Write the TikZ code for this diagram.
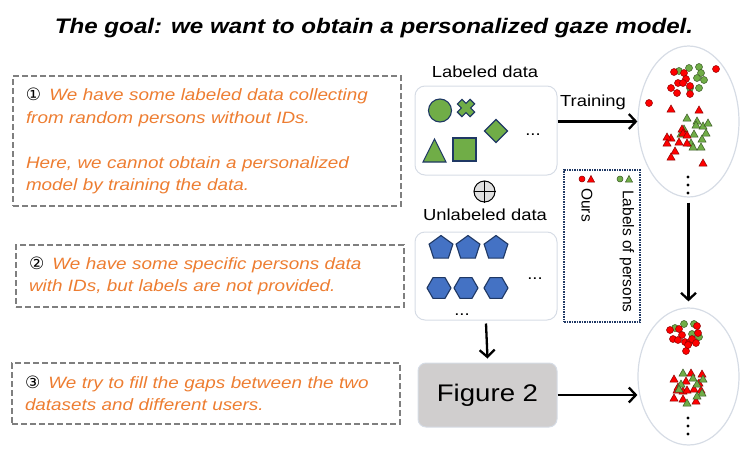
\documentclass[tikz,border=0pt]{standalone}
\usepackage{fontspec}
\setmainfont{Liberation Sans}[FakeStretch=1.15]
\newfontfamily\legfont{Liberation Sans}
\newfontfamily\symfont{DejaVu Sans}
\usetikzlibrary{arrows.meta,shapes.geometric}
\definecolor{orangetxt}{HTML}{ED7D31}
\definecolor{dashgray}{HTML}{7F7F7F}
\definecolor{boxedge}{HTML}{D6DCE5}
\definecolor{navy}{HTML}{1F3864}
\definecolor{shgreen}{HTML}{70AD47}
\definecolor{shblue}{HTML}{4472C4}
\definecolor{figgray}{HTML}{D0CECE}
\definecolor{ptred}{HTML}{FF0000}
\definecolor{ptredline}{HTML}{8B0000}
\definecolor{ptgreenline}{HTML}{385723}
\newcommand{\cnum}[1]{{\color{black}\upshape\symfont\fontsize{17}{20}\selectfont #1}\hspace{0.5em}}
\begin{document}
\begin{tikzpicture}[x=1pt,y=-1pt,
  notebox/.style={draw=dashgray, dash pattern=on 6pt off 3pt, line width=1.8pt,
    inner xsep=13pt, text width=362pt, align=left,
    font=\fontsize{16.4}{22.5}\selectfont\itshape, text=orangetxt},
  datbox/.style={draw=boxedge, line width=1pt, rounded corners=10pt, minimum width=142pt, inner sep=0pt},
  lbl/.style={font=\fontsize{16}{18}\selectfont, inner sep=0pt},
  gshape/.style={fill=shgreen, draw=navy, line width=1.1pt},
  bshape/.style={fill=shblue, draw=navy, line width=1.1pt},
  arr/.style={-{Straight Barb[length=7pt,width=15pt]}, line width=2.3pt},
  blob/.style={draw=boxedge, line width=1.2pt, ellipse, inner sep=0pt},
  rdot/.style={fill=ptred, draw=ptredline, line width=0.5pt},
  gdot/.style={fill=shgreen, draw=ptgreenline, line width=0.5pt},
]
\useasboundingbox (0,0) rectangle (748,453);

% title
\node[anchor=base, inner sep=0pt, font=\fontsize{21}{24}\selectfont\bfseries\itshape] (title) at (374,33)
  {The goal: we want to obtain a personalized gaze model.};

% note boxes
\node[notebox, minimum height=130pt] (n1) at (207,141)
  {\cnum{①}We have some labeled data collecting\\ from random persons without IDs.\\[22.5pt]
   Here, we cannot obtain a personalized\\ model by training the data.};
\node[notebox, minimum height=62pt] (n2) at (210,276)
  {\cnum{②}We have some specific persons data\\ with IDs, but labels are not provided.};
\node[notebox, minimum height=61pt] (n3) at (206,393.5)
  {\cnum{③}We try to fill the gaps between the two\\ datasets and different users.};

% labeled data
\node[lbl] (labt) at (485,72) {Labeled data};
\node[datbox, minimum height=89pt] (lab) at (486,130.5) {};
\node[gshape, circle, minimum size=23pt, inner sep=0pt] (c1) at (440,110.5) {};
\begin{scope}[shift={(466,108)}, rotate=45]
  \draw[gshape] (3.3,9) -- (3.3,3.3) -- (9,3.3) -- (9,-3.3) -- (3.3,-3.3) -- (3.3,-9)
    -- (-3.3,-9) -- (-3.3,-3.3) -- (-9,-3.3) -- (-9,3.3) -- (-3.3,3.3) -- (-3.3,9) -- cycle;
\end{scope}
\draw[gshape] (496,119.5) -- (507.5,131) -- (496,142.5) -- (484.5,131) -- cycle;
\draw[gshape] (423,162) -- (446,162) -- (434.5,139) -- cycle;
\node[gshape, rectangle, minimum size=23pt, inner sep=0pt] (sq) at (464.5,149.5) {};
\node[lbl, anchor=base] (ld) at (533,135.5) {...};

% oplus
\node[circle, draw=black, fill=black!12, line width=1pt, minimum size=21pt, inner sep=0pt] (op) at (484.5,191.5) {};
\draw[line width=1pt] (op.north) -- (op.south) (op.west) -- (op.east);

% unlabeled data
\node[lbl] (unlt) at (485,215) {Unlabeled data};
\node[datbox, minimum height=88pt] (unl) at (486,276) {};
\foreach \x in {441,468,496}
  \node[bshape, regular polygon, regular polygon sides=5, minimum size=25pt, inner sep=0pt] at (\x,248) {};
\foreach \x in {439,466,496}
  \node[bshape, regular polygon, regular polygon sides=6, minimum size=24pt, inner sep=0pt] at (\x,288) {};
\node[lbl, anchor=base] (ud1) at (535,279) {...};
\node[lbl, anchor=base] (ud2) at (462,315) {...};

% figure 2
\node[fill=figgray, draw=boxedge, line width=1pt, rounded corners=8pt, minimum width=139pt, minimum height=64pt,
  font=\fontsize{24}{26}\selectfont] (fig) at (487.5,395) {Figure 2};

% ellipses
\node[blob, minimum width=101pt, minimum height=151pt] (top) at (688.5,121.5) {};
\node[blob, minimum width=101pt, minimum height=137pt] (bot) at (688.5,376.5) {};

% arrows
\node[lbl] (trn) at (593,102) {Training};
\draw[arr] (lab.east |- top.west) -- (top.west);
\draw[arr] ([yshift=-5pt]top.south) -- ([yshift=6pt]bot.north);
\draw[arr] ([yshift=-3pt]unl.south) -- ([yshift=4pt]fig.north);
\draw[arr] (fig.east) -- (bot.west |- fig.east);

% legend
\node[draw=navy, densely dotted, line width=1.5pt, minimum width=76pt, minimum height=152pt, inner sep=0pt] (leg) at (602,246) {};
\fill[rdot] (582,179) circle[radius=3pt];
\draw[rdot] (587.5,182) -- ++(7,0) -- ++(-3.5,-6.5) -- cycle;
\fill[gdot] (620,179) circle[radius=3pt];
\draw[gdot] (625.5,182) -- ++(7,0) -- ++(-3.5,-6.5) -- cycle;
\node[anchor=west, inner sep=0pt, rotate=-90, font=\legfont\fontsize{15.5}{17}\selectfont] (ours) at (587,188) {Ours};
\node[anchor=west, inner sep=0pt, rotate=-90, font=\legfont\fontsize{15.5}{17}\selectfont] (lop) at (627,190) {Labels of persons};

% scatter top
\foreach \x/\y in {679/71,689/68,699/67,701/73,697/78,704/80,690/88,699/88}
  \draw[gdot] (\x,\y) circle[radius=3.5pt];
\foreach \x/\y in {674/72,684/73,686/79,678/83,683/83,690/86,671/88,677/93,690/94,716/69,649/103}
  \draw[rdot] (\x,\y) circle[radius=3.5pt];
\foreach \x/\y in {687/118,697/121,703/126,708/123,696/125,684/129,706/133,694/134,702/139,691/143,701/147,693/147,681/134}
  \draw[gdot] (\x,\y) ++(-4,3) -- ++(8,0) -- ++(-4,-7) -- cycle;
\foreach \x/\y in {671/109,699/110,682/129,671/138,667/137,679/142,687/143,667/143,675/151,671/157,703/163,683/133,687/135}
  \draw[rdot] (\x,\y) ++(-4,3) -- ++(8,0) -- ++(-4,-7) -- cycle;
\foreach \y in {177,185,193,418,426,434}
  \fill (688,\y) circle[radius=1.7pt];

% scatter bottom
\foreach \x/\y in {675/328,684/324,694/324,692/334,699/337}
  \draw[gdot] (\x,\y) circle[radius=3.5pt];
\foreach \x/\y in {670/330,679/329,697/326,698/333,682/335,673/339,678/340,685/342,689/343,692/339,696/343,686/351,688/345}
  \draw[rdot] (\x,\y) circle[radius=3.5pt];
\foreach \x/\y in {674/379,691/373,702/374,686/381,699/383,677/390,683/391,687/390,694/389,701/390,674/398,683/399,696/401,678/387}
  \draw[rdot] (\x,\y) ++(-4,3) -- ++(8,0) -- ++(-4,-7) -- cycle;
\foreach \x/\y in {683/373,693/378,703/379,681/384,697/384,702/393,687/403,697/396,679/389}
  \draw[gdot] (\x,\y) ++(-4,3) -- ++(8,0) -- ++(-4,-7) -- cycle;
\end{tikzpicture}
\end{document}
